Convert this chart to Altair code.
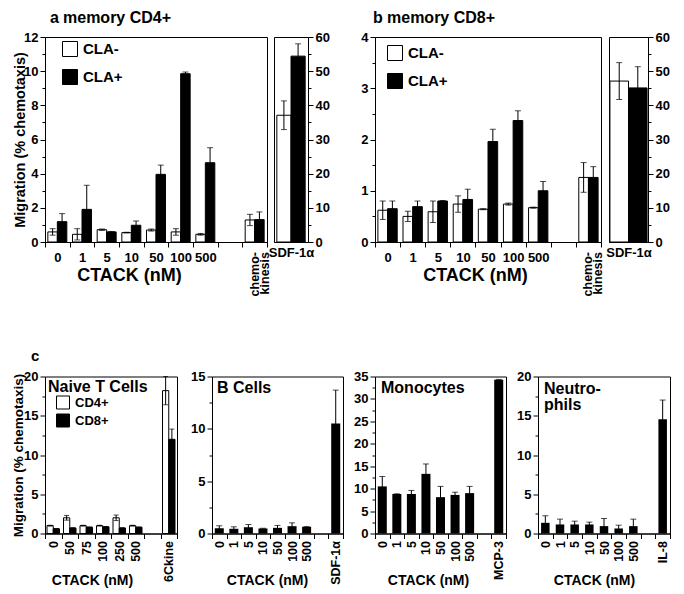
import altair as alt
import pandas as pd

FONT = "Liberation Sans"

# ---------------- panel a : memory CD4+ ----------------
a_cats = ["0", "1", "5", "10", "50", "100", "500", " ", "chemokinesis"]
a_groups = ["0", "1", "5", "10", "50", "100", "500", "chemokinesis"]
a_series = ["CLA-", "CLA+"]
a_neg = [0.59, 0.45, 0.72, 0.55, 0.70, 0.59, 0.45, 1.29]
a_neg_err = [0.19, 0.33, 0.04, 0.02, 0.06, 0.19, 0.05, 0.33]
a_pos = [1.19, 1.91, 0.59, 0.98, 3.96, 9.85, 4.64, 1.31]
a_pos_err = [0.47, 1.41, 0.02, 0.25, 0.54, 0.10, 0.88, 0.45]
sdf_cat = ["SDF-1α"]
a_sdf_neg = [37.1]
a_sdf_neg_err = [4.2]
a_sdf_pos = [54.4]
a_sdf_pos_err = [3.6]

# ---------------- panel b : memory CD8+ ----------------
b_neg = [0.62, 0.50, 0.59, 0.74, 0.64, 0.74, 0.67, 1.26]
b_neg_err = [0.18, 0.10, 0.21, 0.16, 0.01, 0.02, 0.01, 0.29]
b_pos = [0.65, 0.69, 0.80, 0.83, 1.96, 2.37, 1.00, 1.26]
b_pos_err = [0.15, 0.11, 0.01, 0.20, 0.24, 0.19, 0.18, 0.21]
b_sdf_neg = [47.1]
b_sdf_neg_err = [5.4]
b_sdf_pos = [45.1]
b_sdf_pos_err = [6.2]

# ---------------- panel c ----------------
naive_cats = ["0", "50", "75", "100", "250", "500", " ", "6Ckine"]
naive_groups = ["0", "50", "75", "100", "250", "500", "6Ckine"]
naive_series = ["CD4+", "CD8+"]
naive_cd4 = [1.0, 2.0, 1.0, 1.0, 2.0, 1.0, 18.2]
naive_cd4_err = [0.05, 0.3, 0.05, 0.05, 0.35, 0.05, 1.8]
naive_cd8 = [0.6, 0.7, 0.8, 0.85, 0.7, 0.8, 12.0]
naive_cd8_err = [0.02, 0.02, 0.02, 0.02, 0.02, 0.02, 1.3]

ctack = ["0", "1", "5", "10", "50", "100", "500"]
bcell_groups = ctack + ["SDF-1α"]
bcell_vals = [0.5, 0.45, 0.6, 0.48, 0.54, 0.7, 0.64, 10.5]
bcell_err = [0.24, 0.19, 0.26, 0.02, 0.23, 0.32, 0.02, 3.2]

mono_groups = ctack + ["MCP-3"]
mono_vals = [10.5, 8.8, 8.8, 13.3, 8.1, 8.6, 9.0, 34.3]
mono_err = [2.2, 0.05, 0.8, 2.2, 2.4, 0.6, 1.5, 0.05]

neut_groups = ctack + ["IL-8"]
neut_vals = [1.36, 1.15, 1.15, 1.15, 0.94, 0.64, 0.94, 14.55]
neut_err = [0.89, 0.68, 0.42, 0.30, 0.97, 0.42, 0.89, 2.45]

Y_TITLE = "Migration (% chemotaxis)"
X_TITLE = "CTACK (nM)"


def make_df(groups, series, values, errors):
    rows = []
    for s, vals, errs in zip(series, values, errors):
        for g, v, e in zip(groups, vals, errs):
            rows.append({"cat": g, "series": s, "value": v,
                         "lo": max(v - e, 0.0), "hi": v + e})
    return pd.DataFrame(rows)


def y_axis(values, major, orient="left", title_size=14, title_x=None, label_size=13):
    cond = f"abs(datum.value / {major} - round(datum.value / {major})) < 0.001"
    kw = dict(
        orient=orient, values=values, format="~g",
        labelExpr=f"({cond}) ? datum.label : ''",
        tickSize={"condition": {"test": cond, "value": 5}, "value": 3},
        labelOverlap=False, labelFont=FONT, labelFontSize=label_size,
        labelFontWeight="bold", labelPadding=2, grid=False,
        titleFont=FONT, titleFontSize=title_size, titleFontWeight="bold",
    )
    if title_x is not None:
        kw.update(titleX=title_x, titleBaseline="middle")
    return alt.Axis(**kw)


def x_axis(angle, label_size, title_x=None, title_y=None, title_size=14, ticks=True, label_pad=3):
    kw = dict(
        labelExpr="(datum.value == ' ' || datum.value == 'chemokinesis') ? '' : datum.label",
        labelAngle=angle, labelFont=FONT, labelFontSize=label_size,
        labelFontWeight="bold", labelPadding=label_pad, ticks=ticks,
        tickBand="extent", tickSize=5, labelOverlap=False, grid=False,
        titleFont=FONT, titleFontWeight="bold", titleFontSize=title_size,
    )
    if angle == 270:
        kw.update(labelAlign="right", labelBaseline="middle")
    if title_x is not None:
        kw.update(titleX=title_x, titleY=title_y, titleAlign="center", titleBaseline="top")
    return alt.Axis(**kw)


def grouped_panel(df, cats, series, width, height, ymax, yax, xax, pad_outer,
                  legend=None, y_title=None, x_title=None, cap=6, extra=()):
    xs = alt.Scale(domain=cats, paddingInner=0, paddingOuter=0)
    xos = alt.Scale(domain=series, paddingInner=0, paddingOuter=pad_outer)
    ys = alt.Scale(domain=[0, ymax], nice=False, zero=True)
    X = alt.X("cat:N", scale=xs, axis=xax, title=x_title)
    XO = alt.XOffset("series:N", scale=xos)
    base = alt.Chart(df)
    fill = alt.Fill("series:N", scale=alt.Scale(domain=series, range=["white", "black"]), legend=legend)
    bars = base.mark_bar(stroke="black", strokeWidth=1).encode(
        x=X, xOffset=XO, y=alt.Y("value:Q", scale=ys, axis=yax, title=y_title), fill=fill)
    rules = base.mark_rule(color="black", strokeWidth=1).encode(
        x=X, xOffset=XO, y=alt.Y("lo:Q", scale=ys, axis=yax, title=y_title), y2="hi:Q")
    hi = base.mark_tick(color="black", orient="horizontal", size=cap, thickness=1).encode(
        x=X, xOffset=XO, y=alt.Y("hi:Q", scale=ys, axis=yax, title=y_title))
    lo = base.mark_tick(color="black", orient="horizontal", size=cap, thickness=1).encode(
        x=X, xOffset=XO, y=alt.Y("lo:Q", scale=ys, axis=yax, title=y_title))
    layers = [bars, rules, hi, lo] + [e(X) for e in extra]
    return alt.layer(*layers).properties(width=width, height=height)


def single_panel(df, cats, width, height, ymax, yax, xax, y_title=None, x_title=None,
                 band=0.62, cap=6, extra=()):
    xs = alt.Scale(domain=cats, paddingInner=0, paddingOuter=0)
    ys = alt.Scale(domain=[0, ymax], nice=False, zero=True)
    X = alt.X("cat:N", scale=xs, axis=xax, title=x_title)
    base = alt.Chart(df)
    bars = base.mark_bar(color="black", width=alt.RelativeBandSize(band)).encode(
        x=X, y=alt.Y("value:Q", scale=ys, axis=yax, title=y_title))
    rules = base.mark_rule(color="black", strokeWidth=1).encode(
        x=X, y=alt.Y("lo:Q", scale=ys, axis=yax, title=y_title), y2="hi:Q")
    hi = base.mark_tick(color="black", orient="horizontal", size=cap, thickness=1).encode(
        x=X, y=alt.Y("hi:Q", scale=ys, axis=yax, title=y_title))
    layers = [bars, rules, hi] + list(extra)
    return alt.layer(*layers).properties(width=width, height=height)


def free_text(text, x, y, size=16, lh=17, baseline="top"):
    return alt.Chart(pd.DataFrame({"t": [text]})).mark_text(
        align="left", baseline=baseline, lineBreak="\n", lineHeight=lh, font=FONT,
        fontSize=size, fontWeight="bold", color="black").encode(
        x=alt.value(x), y=alt.value(y), text="t:N")


def as_extra(c):
    return lambda X: c


def chemo_label(height):
    def f(X):
        return alt.Chart(pd.DataFrame({"cat": ["chemokinesis"], "t": ["chemo-\nkinesis"]})).mark_text(
            angle=270, align="right", baseline="middle", lineBreak="\n", lineHeight=10,
            font=FONT, fontSize=12.5, fontWeight="bold", color="black").encode(
            x=X, y=alt.value(height + 10), text="t:N")
    return f


def legend(x, y, size, row_pad, label_size=15):
    return alt.Legend(orient="none", legendX=x, legendY=y, title=None, symbolType="square",
                      symbolSize=size, symbolStrokeColor="black", symbolStrokeWidth=1,
                      labelFont=FONT, labelFontSize=label_size, labelFontWeight="bold",
                      labelColor="black", rowPadding=row_pad, padding=0, labelOffset=5)


def ind(c):
    return c.resolve_scale(x="independent", y="independent", xOffset="independent",
                           fill="independent").resolve_legend(fill="independent")


TOP_H = 205
BOT_H = 157
ROW_GAP = 339.5   # offset from the top row's plot top to the bottom row's plot top

# ---- panel a ----
df_a = make_df(a_groups, a_series, [a_neg, a_pos], [a_neg_err, a_pos_err])
a_left = grouped_panel(
    df_a, a_cats, a_series, 222, TOP_H, 12,
    y_axis(list(range(0, 13)), 2, title_size=14.5, title_x=-25),
    x_axis(0, 13, title_x=84, title_y=24, title_size=18, label_pad=4),
    0.3, legend=legend(17, 4, 225, 8), y_title=Y_TITLE, x_title=X_TITLE,
    extra=[chemo_label(TOP_H)],
)

df_a_sdf = make_df(sdf_cat, a_series, [a_sdf_neg, a_sdf_pos], [a_sdf_neg_err, a_sdf_pos_err])
a_right = grouped_panel(
    df_a_sdf, sdf_cat, a_series, 34, TOP_H, 60,
    y_axis(list(range(0, 61, 5)), 10, orient="right"),
    x_axis(0, 13, ticks=False, label_pad=4), 0.2,
)

# ---- panel b ----
df_b = make_df(a_groups, a_series, [b_neg, b_pos], [b_neg_err, b_pos_err])
b_left = grouped_panel(
    df_b, a_cats, a_series, 226, TOP_H, 4,
    y_axis([i / 2 for i in range(0, 9)], 1),
    x_axis(0, 13, title_x=100, title_y=24, title_size=18, label_pad=4),
    0.3, legend=legend(12, 8, 225, 8),
    x_title=X_TITLE,
    extra=[chemo_label(TOP_H),
           as_extra(free_text("b", -2, -19, size=16, baseline="middle")),
           as_extra(free_text("memory CD8+", 12, -19, size=16, baseline="middle"))],
)

df_b_sdf = make_df(sdf_cat, a_series, [b_sdf_neg, b_sdf_pos], [b_sdf_neg_err, b_sdf_pos_err])
b_right = grouped_panel(
    df_b_sdf, sdf_cat, a_series, 39, TOP_H, 60,
    y_axis(list(range(0, 61, 5)), 10, orient="right"),
    x_axis(0, 13, ticks=False, label_pad=4), 0.05,
)

# ---- panel c ----
df_n = make_df(naive_groups, naive_series, [naive_cd4, naive_cd8], [naive_cd4_err, naive_cd8_err])
naive = grouped_panel(
    df_n, naive_cats, naive_series, 132, BOT_H, 20,
    y_axis([i * 2.5 for i in range(0, 9)], 5, title_size=13.5, title_x=-27),
    x_axis(270, 12.5, title_x=47, title_y=40, title_size=14, label_pad=2),
    0.32, legend=legend(11, 19, 169, 0, label_size=13), y_title=Y_TITLE, x_title=X_TITLE,
    cap=5,
    extra=[as_extra(free_text("Naive T Cells", 3, 2)),
           as_extra(free_text("c", -14, -21, size=15, baseline="middle")),
           # heading of panel a, placed from this view's origin (same x as panel a)
           as_extra(free_text("a", 5, -19 - ROW_GAP, size=16, baseline="middle")),
           as_extra(free_text("memory CD4+", 18, -19 - ROW_GAP, size=16, baseline="middle"))],
)

df_bc = make_df(bcell_groups, ["B"], [bcell_vals], [bcell_err])
bcells = single_panel(
    df_bc, ctack + [" ", "SDF-1α"], 131, BOT_H, 15,
    y_axis([i * 2.5 for i in range(0, 7)], 5),
    x_axis(270, 12.5, title_x=55, title_y=40, title_size=14, label_pad=2),
    x_title=X_TITLE, extra=[free_text("B Cells", 5, 3)],
)

df_m = make_df(mono_groups, ["M"], [mono_vals], [mono_err])
mono = single_panel(
    df_m, ctack + [" ", "MCP-3"], 131, BOT_H, 35,
    y_axis([i * 2.5 for i in range(0, 15)], 5),
    x_axis(270, 12.5, title_x=53, title_y=40, title_size=14, label_pad=2),
    x_title=X_TITLE, extra=[free_text("Monocytes", 6, 3)],
)

df_ne = make_df(neut_groups, ["N"], [neut_vals], [neut_err])
neut = single_panel(
    df_ne, ctack + [" ", "IL-8"], 132, BOT_H, 20,
    y_axis([i * 2.5 for i in range(0, 9)], 5),
    x_axis(270, 12.5, title_x=56, title_y=40, title_size=14, label_pad=2),
    x_title=X_TITLE, band=0.58, extra=[free_text("Neutro-\nphils", 6, 4, lh=16)],
)

# In "flush" layout a nested concat counts as zero-size, so the outer spacing
# is the offset between the origins of the nested groups.
top = ind(alt.hconcat(
    ind(alt.hconcat(a_left, a_right, spacing=7, bounds="flush")),
    ind(alt.hconcat(b_left, b_right, spacing=8, bounds="flush")),
    spacing=330, bounds="flush"))

bottom = ind(alt.hconcat(
    naive,
    ind(alt.hconcat(bcells, mono, neut, spacing=32, bounds="flush")),
    spacing=35, bounds="flush"))

chart = ind(alt.vconcat(top, bottom, spacing=ROW_GAP, bounds="flush")).properties(
    padding={"left": 2, "top": 1, "right": 0, "bottom": 0}, background="white",
).configure_view(stroke="black", strokeWidth=1).configure_axis(
    domainColor="black", tickColor="black", labelColor="black", titleColor="black",
    domainWidth=1, tickWidth=1,
)

chart.save("out.html", embed_options={"renderer": "svg", "actions": False})
